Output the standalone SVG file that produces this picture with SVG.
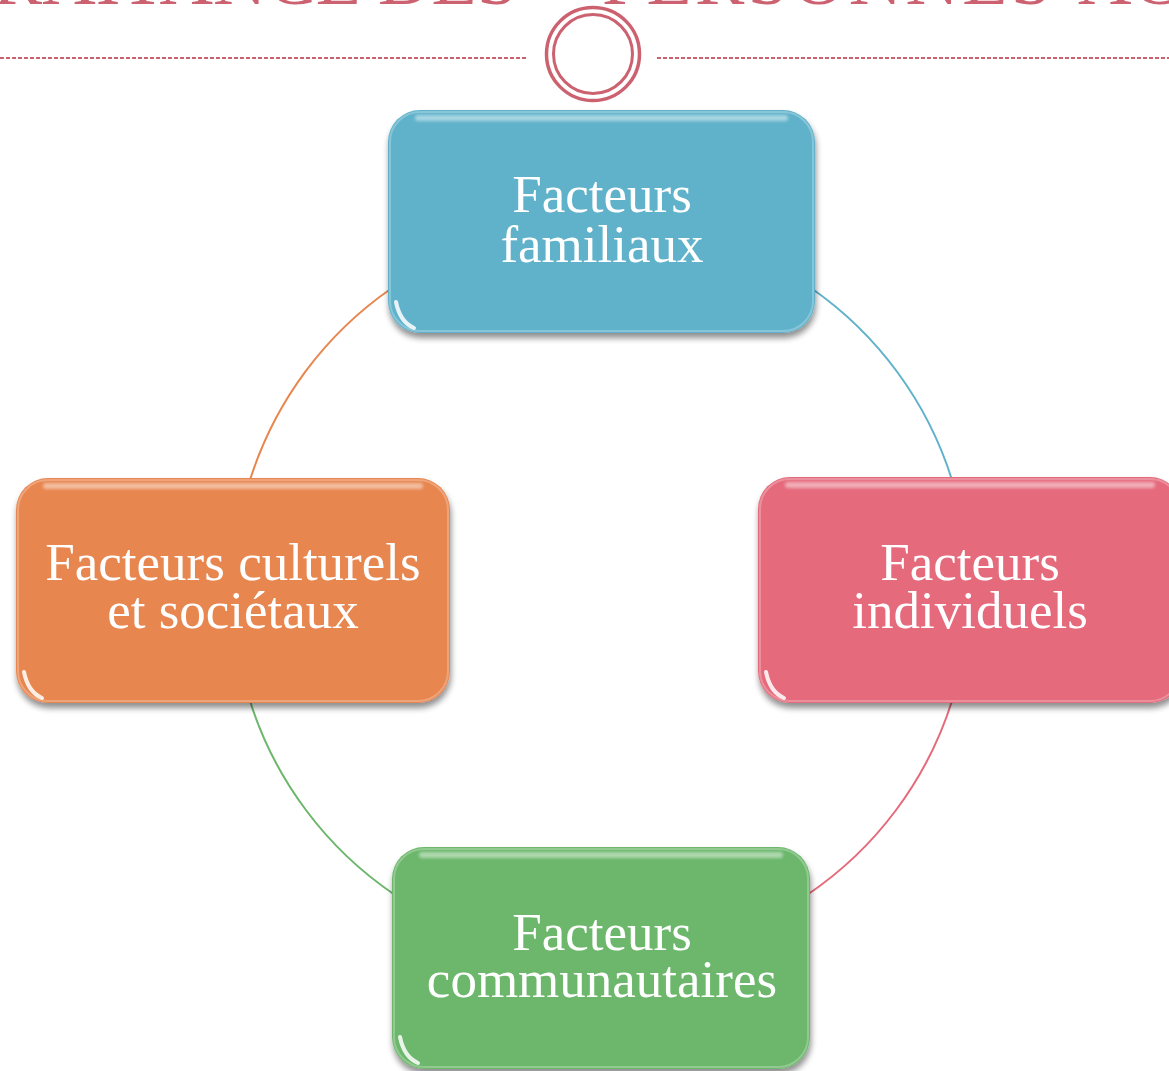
<svg xmlns="http://www.w3.org/2000/svg" width="1169" height="1071" viewBox="0 0 1169 1071">
  <defs>
    <style>
      .title { font-family: "Liberation Serif", "DejaVu Serif", serif; font-size: 74px; fill: #cc6170; }
      .orn { fill: none; stroke: #cc6170; }
      .dash { stroke: #cc6170; stroke-width: 2; stroke-dasharray: 4 2; }
      .label { font-family: "Liberation Serif", "DejaVu Serif", serif; font-size: 53px; fill: #ffffff; text-anchor: middle; }
      .arc { fill: none; stroke-width: 2; }
      .hl { fill: #ffffff; opacity: 0.45; }
      .gloss { fill: none; stroke: #ffffff; stroke-width: 4; stroke-linecap: round; opacity: 0.85; }
      .edge { fill: none; stroke: #ffffff; stroke-width: 2; opacity: 0.25; }
    </style>
    <filter id="shadow" x="-10%" y="-10%" width="120%" height="130%">
      <feGaussianBlur in="SourceAlpha" stdDeviation="3"/>
      <feOffset dx="1" dy="5" result="b"/>
      <feComponentTransfer><feFuncA type="linear" slope="0.45"/></feComponentTransfer>
      <feMerge><feMergeNode/><feMergeNode in="SourceGraphic"/></feMerge>
    </filter>
    <filter id="soft" x="-5%" y="-50%" width="110%" height="200%">
      <feGaussianBlur stdDeviation="1.5"/>
    </filter>
  </defs>

  <g id="title">
    <text class="title" y="4"><tspan x="-210">MALTRAITANCE</tspan><tspan x="378">DES</tspan><tspan x="602" textLength="450" lengthAdjust="spacing">PERSONNES</tspan><tspan x="1078">ÂGÉES</tspan></text>
  </g>

  <g id="ornament">
    <line class="dash" x1="0" y1="58" x2="527" y2="58"/>
    <line class="dash" x1="657" y1="58" x2="1169" y2="58"/>
    <circle class="orn" cx="593" cy="54" r="46.5" stroke-width="3.5"/>
    <circle class="orn" cx="593" cy="54" r="39.5" stroke-width="3"/>
  </g>

  <g id="connectors">
    <path class="arc" stroke="#e8864f" d="M 392 288 A 368 368 0 0 0 250 480"/>
    <path class="arc" stroke="#60b2cb" d="M 811 288 A 368 368 0 0 1 952 480"/>
    <path class="arc" stroke="#e56b7b" d="M 952 701 A 368 368 0 0 1 807 895"/>
    <path class="arc" stroke="#6cb76c" d="M 395 895 A 368 368 0 0 1 250 701"/>
  </g>

  <g id="node-familiaux">
    <rect x="388" y="110" width="427" height="223" rx="32" fill="#60b2cb" filter="url(#shadow)"/>
    <rect class="hl" x="415" y="115" width="373" height="6" rx="3" filter="url(#soft)"/>
    <rect class="edge" x="390" y="112" width="423" height="219" rx="30"/>
    <path class="gloss" d="M 396 302 Q 400 322 414 328"/>
    <text class="label" x="602" y="212">Facteurs</text>
    <text class="label" x="602" y="262">familiaux</text>
  </g>

  <g id="node-individuels">
    <rect x="758" y="477" width="424" height="226" rx="32" fill="#e56b7b" filter="url(#shadow)"/>
    <rect class="hl" x="785" y="482" width="370" height="6" rx="3" filter="url(#soft)"/>
    <rect class="edge" x="760" y="479" width="420" height="222" rx="30"/>
    <path class="gloss" d="M 766 672 Q 770 692 784 698"/>
    <text class="label" x="970" y="580">Facteurs</text>
    <text class="label" x="970" y="628">individuels</text>
  </g>

  <g id="node-communautaires">
    <rect x="392" y="847" width="418" height="222" rx="32" fill="#6cb76c" filter="url(#shadow)"/>
    <rect class="hl" x="419" y="852" width="364" height="6" rx="3" filter="url(#soft)"/>
    <rect class="edge" x="394" y="849" width="414" height="218" rx="30"/>
    <path class="gloss" d="M 400 1037 Q 404 1057 418 1063"/>
    <text class="label" x="602" y="950">Facteurs</text>
    <text class="label" x="602" y="997">communautaires</text>
  </g>

  <g id="node-culturels">
    <rect x="16" y="478" width="434" height="225" rx="32" fill="#e8864f" filter="url(#shadow)"/>
    <rect class="hl" x="43" y="483" width="380" height="6" rx="3" filter="url(#soft)"/>
    <rect class="edge" x="18" y="480" width="430" height="221" rx="30"/>
    <path class="gloss" d="M 24 672 Q 28 692 42 698"/>
    <text class="label" x="233" y="580">Facteurs culturels</text>
    <text class="label" x="233" y="628">et sociétaux</text>
  </g>
</svg>
